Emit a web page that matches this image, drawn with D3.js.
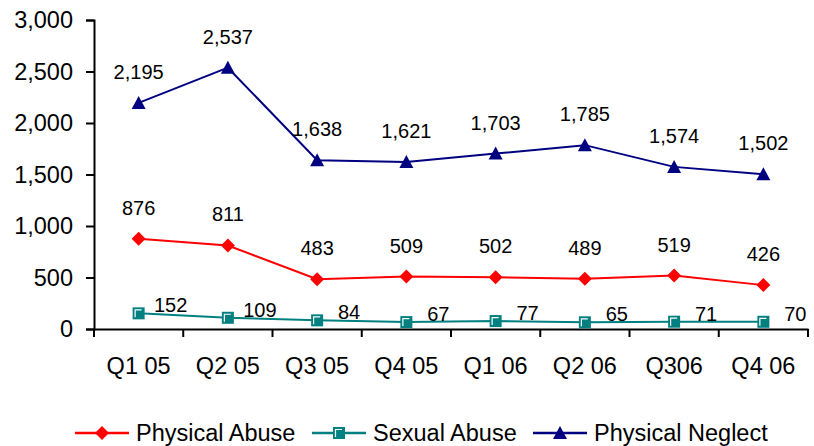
<!DOCTYPE html>
<html>
<head>
<meta charset="utf-8">
<script src="https://cdn.jsdelivr.net/npm/d3@7"></script>
<style>
  body { margin: 0; background: #fff; }
  text { font-family: "Liberation Sans", Arial, sans-serif; fill: #000; }
</style>
</head>
<body>
<svg id="chart" width="814" height="446"></svg>
<script>
// quarters on the x axis
const quarters = ["Q1 05", "Q2 05", "Q3 05", "Q4 05", "Q1 06", "Q2 06", "Q306", "Q4 06"];

// series values
const physicalAbuse = [876, 811, 483, 509, 502, 489, 519, 426];
const sexualAbuse = [152, 109, 84, 67, 77, 65, 71, 70];
const physicalNeglect = [2195, 2537, 1638, 1621, 1703, 1785, 1574, 1502];

const yTicks = [0, 500, 1000, 1500, 2000, 2500, 3000];

const series = [
  { name: "Physical Abuse", values: physicalAbuse, color: "#FF0000", marker: "diamond", label: "above" },
  { name: "Sexual Abuse", values: sexualAbuse, color: "#008080", marker: "square", label: "right" },
  { name: "Physical Neglect", values: physicalNeglect, color: "#000080", marker: "triangle", label: "above" }
];

const svg = d3.select("#chart");
const plotLeft = 94, plotRight = 808, plotTop = 20, plotBottom = 329;

const x = d3.scaleBand().domain(quarters).range([plotLeft, plotRight]);
const y = d3.scaleLinear().domain([0, 3000]).range([plotBottom, plotTop]);
const fmt = d3.format(",");

// y axis
const yAxis = svg.append("g")
  .attr("transform", `translate(${plotLeft},0)`)
  .call(d3.axisLeft(y).tickValues(yTicks).tickFormat(fmt).tickSize(8).tickPadding(13));
yAxis.select(".domain").attr("stroke", "#000").attr("stroke-width", 2);
yAxis.selectAll(".tick line").attr("stroke", "#000").attr("stroke-width", 2);
yAxis.selectAll(".tick text")
  .attr("font-size", 23.5)
  .style("font-family", "Liberation Sans, Arial, sans-serif");

// x axis with ticks at band boundaries
const xAxis = svg.append("g")
  .attr("transform", `translate(0,${plotBottom})`)
  .call(d3.axisBottom(x).tickSize(0).tickPadding(28));
xAxis.select(".domain").attr("stroke", "#000").attr("stroke-width", 2);
xAxis.selectAll(".tick text")
  .attr("font-size", 23.5)
  .style("font-family", "Liberation Sans, Arial, sans-serif");
xAxis.selectAll(".bound")
  .data(quarters.map(q => x(q)).concat([x.range()[1]]))
  .join("line")
  .attr("x1", d => d).attr("x2", d => d)
  .attr("y1", 0).attr("y2", 8)
  .attr("stroke", "#000").attr("stroke-width", 2);

const cx = q => x(q) + x.bandwidth() / 2;

function drawMarker(g, type, color) {
  if (type === "diamond") {
    g.append("path").attr("d", "M0,-7L7,0L0,7L-7,0Z").attr("fill", color);
  } else if (type === "square") {
    g.append("rect").attr("x", -6).attr("y", -6).attr("width", 12).attr("height", 12).attr("fill", color);
    g.append("path").attr("d", "M-3.5,4V-3.5H3").attr("fill", "none").attr("stroke", "#fff").attr("stroke-width", 1.2);
  } else {
    g.append("path").attr("d", "M0,-7L7,6L-7,6Z").attr("fill", color);
  }
}

const line = d3.line().x((d, i) => cx(quarters[i])).y(d => y(d));

series.forEach(s => {
  svg.append("path")
    .datum(s.values)
    .attr("d", line)
    .attr("fill", "none")
    .attr("stroke", s.color)
    .attr("stroke-width", 2);

  s.values.forEach((v, i) => {
    const g = svg.append("g").attr("transform", `translate(${cx(quarters[i])},${y(v)})`);
    drawMarker(g, s.marker, s.color);
  });

  svg.append("g").selectAll("text")
    .data(s.values)
    .join("text")
    .attr("x", (d, i) => cx(quarters[i]) + (s.label === "right" ? 32 : 0))
    .attr("y", d => y(d) + (s.label === "right" ? -8 : -31))
    .attr("dy", "0.35em")
    .attr("text-anchor", "middle")
    .attr("font-size", 20)
    .text(d => fmt(d));
});

// legend
const legendX = [75, 312, 533];
const legend = svg.append("g").attr("transform", "translate(0,433)");
series.forEach((s, i) => {
  const g = legend.append("g").attr("transform", `translate(${legendX[i]},0)`);
  g.append("line").attr("x1", 0).attr("x2", 54).attr("stroke", s.color).attr("stroke-width", 2.5);
  drawMarker(g.append("g").attr("transform", "translate(27,0)"), s.marker, s.color);
  g.append("text")
    .attr("x", 61)
    .attr("dy", "0.35em")
    .attr("font-size", 23.5)
    .text(s.name);
});
</script>
</body>
</html>
